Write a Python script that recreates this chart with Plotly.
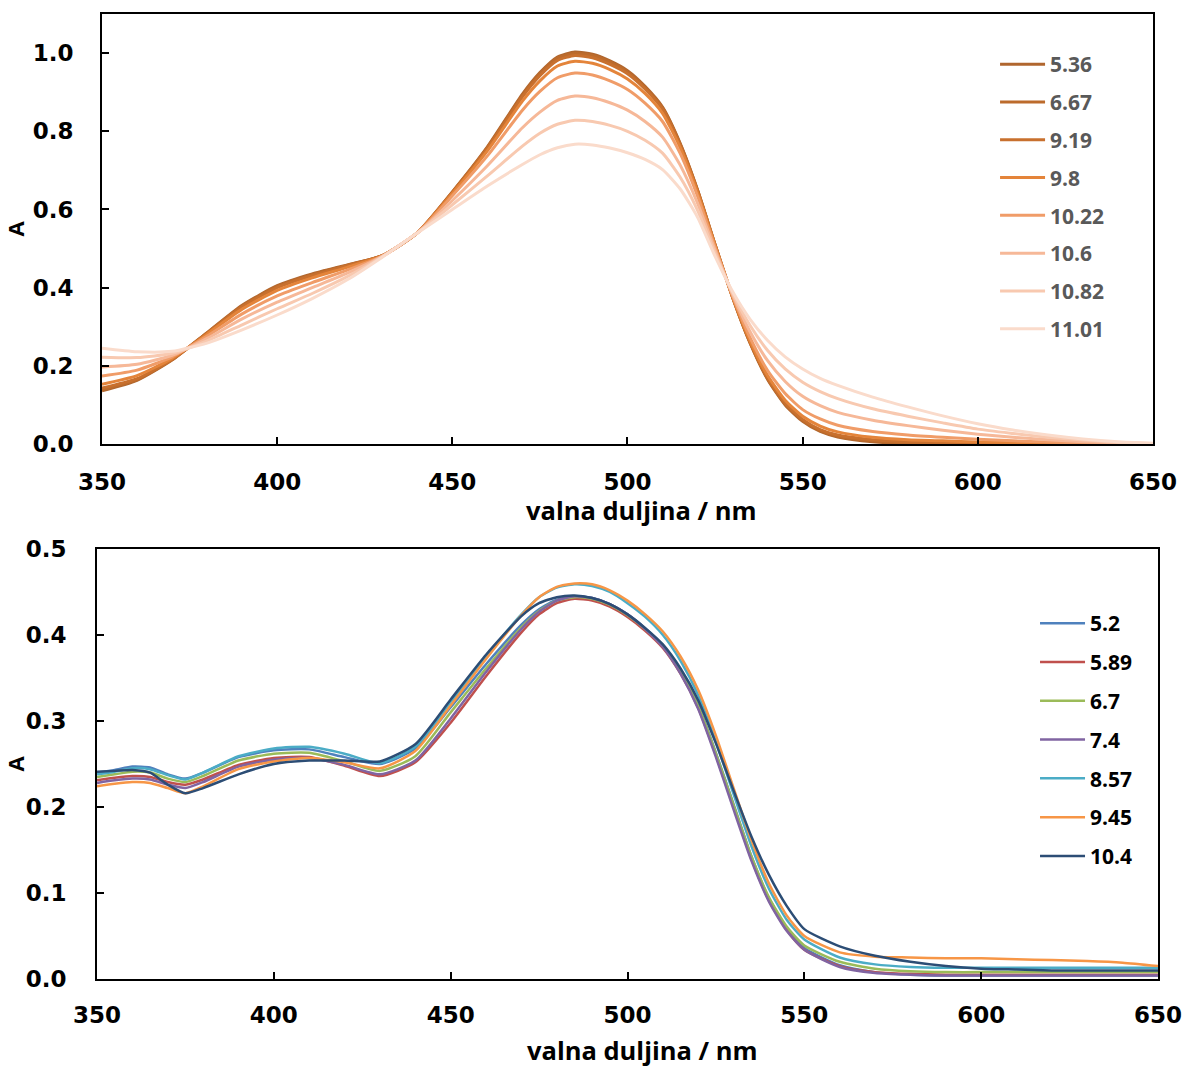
import plotly.graph_objects as go

# ---------------- top panel data ----------------
wl_top = [350, 360, 370, 380, 390, 400, 410, 420, 430, 440, 450, 460, 470, 475, 480, 485, 490, 495,
          500, 505, 510, 515, 520, 525, 530, 535, 540, 545, 550, 555, 560, 570, 580, 590, 600, 610, 620, 630, 640, 650]

top_names = ["5.36", "6.67", "9.19", "9.8", "10.22", "10.6", "10.82", "11.01"]
top_colors = ["#B0662E", "#BC6B2C", "#C8702E", "#E4843A", "#F09C68", "#F6B898", "#F8C9B0", "#FADBCB"]

A_536 = [0.136, 0.163, 0.215, 0.285, 0.355, 0.405, 0.435, 0.458, 0.482, 0.540, 0.645, 0.760, 0.895, 0.950, 0.990, 1.003, 0.997, 0.980,
         0.955, 0.915, 0.862, 0.770, 0.650, 0.510, 0.375, 0.258, 0.165, 0.100, 0.058, 0.032, 0.018, 0.006, 0.002, 0.001, 0.000, 0.000, 0.000, 0.000, 0.000, 0.000]
A_667 = [0.139, 0.165, 0.216, 0.284, 0.353, 0.403, 0.433, 0.457, 0.482, 0.540, 0.644, 0.758, 0.892, 0.947, 0.987, 0.999, 0.994, 0.977,
         0.952, 0.912, 0.860, 0.768, 0.649, 0.510, 0.375, 0.259, 0.167, 0.102, 0.060, 0.034, 0.020, 0.008, 0.003, 0.002, 0.001, 0.001, 0.000, 0.000, 0.000, 0.000]
A_919 = [0.143, 0.167, 0.216, 0.283, 0.351, 0.400, 0.431, 0.456, 0.482, 0.540, 0.643, 0.756, 0.888, 0.942, 0.981, 0.994, 0.988, 0.971,
         0.947, 0.908, 0.856, 0.765, 0.647, 0.509, 0.376, 0.260, 0.169, 0.105, 0.063, 0.037, 0.023, 0.011, 0.006, 0.004, 0.002, 0.001, 0.001, 0.001, 0.000, 0.000]
A_98 = [0.153, 0.175, 0.219, 0.281, 0.345, 0.393, 0.425, 0.452, 0.481, 0.540, 0.641, 0.750, 0.877, 0.929, 0.967, 0.979, 0.974, 0.958,
        0.934, 0.897, 0.846, 0.759, 0.643, 0.507, 0.377, 0.264, 0.175, 0.112, 0.071, 0.046, 0.031, 0.017, 0.011, 0.008, 0.005, 0.004, 0.002, 0.001, 0.001, 0.000]
A_1022 = [0.174, 0.189, 0.223, 0.276, 0.333, 0.379, 0.413, 0.445, 0.481, 0.540, 0.635, 0.737, 0.854, 0.902, 0.937, 0.949, 0.944, 0.929,
          0.907, 0.872, 0.825, 0.744, 0.634, 0.503, 0.379, 0.272, 0.188, 0.129, 0.088, 0.064, 0.048, 0.032, 0.023, 0.017, 0.012, 0.008, 0.005, 0.003, 0.001, 0.000]
A_106 = [0.197, 0.204, 0.227, 0.270, 0.320, 0.363, 0.400, 0.437, 0.480, 0.540, 0.623, 0.712, 0.809, 0.849, 0.879, 0.890, 0.886, 0.873,
         0.854, 0.825, 0.785, 0.714, 0.616, 0.496, 0.382, 0.287, 0.213, 0.160, 0.122, 0.098, 0.081, 0.061, 0.047, 0.035, 0.025, 0.017, 0.011, 0.006, 0.003, 0.001]
A_1082 = [0.222, 0.221, 0.232, 0.264, 0.305, 0.346, 0.385, 0.428, 0.479, 0.540, 0.612, 0.686, 0.762, 0.795, 0.818, 0.828, 0.825, 0.815,
          0.800, 0.777, 0.744, 0.683, 0.598, 0.488, 0.386, 0.303, 0.239, 0.192, 0.158, 0.134, 0.116, 0.090, 0.071, 0.054, 0.038, 0.027, 0.017, 0.010, 0.004, 0.001]
A_1101 = [0.245, 0.236, 0.237, 0.258, 0.292, 0.330, 0.372, 0.420, 0.478, 0.540, 0.600, 0.660, 0.715, 0.740, 0.758, 0.767, 0.765, 0.757,
          0.745, 0.728, 0.702, 0.653, 0.580, 0.480, 0.390, 0.319, 0.265, 0.223, 0.192, 0.168, 0.150, 0.120, 0.095, 0.072, 0.052, 0.036, 0.023, 0.013, 0.006, 0.002]
top_series = [A_536, A_667, A_919, A_98, A_1022, A_106, A_1082, A_1101]

# ---------------- bottom panel data ----------------
wl_bot = [350, 355, 360, 365, 370, 375, 380, 390, 400, 410, 420, 430, 440, 450, 460, 470, 475, 480, 485, 490, 495,
          500, 505, 510, 515, 520, 525, 530, 535, 540, 545, 550, 560, 570, 580, 590, 600, 610, 620, 630, 640, 650]

bot_names = ["5.2", "5.89", "6.7", "7.4", "8.57", "9.45", "10.4"]
bot_colors = ["#4F81BD", "#C0504D", "#9BBB59", "#8064A2", "#4BACC6", "#F79646", "#2C4D75"]

B_52 = [0.240, 0.243, 0.247, 0.246, 0.238, 0.233, 0.240, 0.258, 0.266, 0.267, 0.258, 0.250, 0.268, 0.316, 0.366, 0.412, 0.430, 0.441, 0.445, 0.443, 0.436,
        0.424, 0.408, 0.388, 0.358, 0.318, 0.263, 0.203, 0.143, 0.094, 0.059, 0.036, 0.016, 0.008, 0.005, 0.004, 0.004, 0.004, 0.004, 0.004, 0.004, 0.004]
B_589 = [0.231, 0.234, 0.236, 0.235, 0.229, 0.226, 0.232, 0.249, 0.257, 0.258, 0.248, 0.236, 0.252, 0.298, 0.352, 0.403, 0.424, 0.437, 0.442, 0.440, 0.433,
         0.421, 0.405, 0.385, 0.355, 0.315, 0.260, 0.200, 0.140, 0.091, 0.057, 0.034, 0.015, 0.008, 0.006, 0.005, 0.005, 0.005, 0.005, 0.005, 0.005, 0.005]
B_67 = [0.235, 0.238, 0.241, 0.240, 0.233, 0.229, 0.236, 0.254, 0.262, 0.263, 0.253, 0.242, 0.259, 0.310, 0.361, 0.409, 0.428, 0.440, 0.444, 0.442, 0.435,
        0.423, 0.407, 0.387, 0.357, 0.317, 0.262, 0.202, 0.143, 0.095, 0.061, 0.039, 0.020, 0.012, 0.009, 0.008, 0.008, 0.008, 0.008, 0.008, 0.008, 0.008]
B_74 = [0.228, 0.231, 0.233, 0.232, 0.226, 0.222, 0.229, 0.247, 0.255, 0.257, 0.249, 0.238, 0.254, 0.303, 0.357, 0.407, 0.427, 0.440, 0.445, 0.443, 0.436,
        0.424, 0.407, 0.386, 0.355, 0.314, 0.258, 0.197, 0.138, 0.090, 0.056, 0.034, 0.014, 0.007, 0.005, 0.004, 0.004, 0.004, 0.004, 0.004, 0.004, 0.004]
B_857 = [0.238, 0.241, 0.245, 0.244, 0.237, 0.232, 0.240, 0.259, 0.268, 0.270, 0.262, 0.251, 0.270, 0.322, 0.375, 0.424, 0.444, 0.455, 0.459, 0.457, 0.450,
         0.437, 0.421, 0.400, 0.370, 0.330, 0.276, 0.215, 0.155, 0.105, 0.069, 0.046, 0.025, 0.017, 0.014, 0.013, 0.013, 0.013, 0.013, 0.013, 0.013, 0.013]
B_945 = [0.224, 0.227, 0.229, 0.228, 0.222, 0.216, 0.224, 0.244, 0.253, 0.257, 0.252, 0.245, 0.265, 0.318, 0.372, 0.423, 0.444, 0.456, 0.460, 0.459, 0.452,
         0.440, 0.424, 0.404, 0.375, 0.336, 0.283, 0.222, 0.162, 0.111, 0.074, 0.050, 0.031, 0.026, 0.025, 0.024, 0.024, 0.023, 0.022, 0.021, 0.019, 0.015]
B_104 = [0.241, 0.242, 0.243, 0.240, 0.226, 0.216, 0.222, 0.238, 0.250, 0.254, 0.254, 0.253, 0.273, 0.325, 0.377, 0.422, 0.437, 0.444, 0.446, 0.443, 0.436,
         0.424, 0.408, 0.389, 0.361, 0.324, 0.274, 0.219, 0.166, 0.121, 0.085, 0.058, 0.038, 0.027, 0.020, 0.015, 0.012, 0.011, 0.010, 0.010, 0.010, 0.010]
bot_series = [B_52, B_589, B_67, B_74, B_857, B_945, B_104]

y_ticks_top = [0.0, 0.2, 0.4, 0.6, 0.8, 1.0]
y_ticks_bot = [0.0, 0.1, 0.2, 0.3, 0.4, 0.5]
x_ticks = [350, 400, 450, 500, 550, 600, 650]
x_title = "valna duljina / nm"
y_title = "A"

fig = go.Figure()
for name, col, ys in zip(top_names, top_colors, top_series):
    fig.add_trace(go.Scatter(x=wl_top, y=ys, name=name, mode="lines",
                             line=dict(color=col, width=3, shape="spline", smoothing=0.6),
                             xaxis="x", yaxis="y", legend="legend", legendgroup="t" + name))
for name, col, ys in zip(bot_names, bot_colors, bot_series):
    fig.add_trace(go.Scatter(x=wl_bot, y=ys, name=name, mode="lines",
                             line=dict(color=col, width=2.5, shape="spline", smoothing=0.6),
                             xaxis="x2", yaxis="y2", legend="legend2", legendgroup="b" + name))

tickfont = dict(family="DejaVu Sans", size=23, color="black", weight="bold")
titlefont = dict(family="Open Sans", size=25.5, color="black", weight="bold")
afont = dict(family="Open Sans", size=22, color="black", weight="bold")
axis_common = dict(showline=True, linecolor="black", linewidth=2, mirror=True, ticks="inside",
                   ticklen=7, tickwidth=1.5, tickcolor="black", showgrid=False, zeroline=False,
                   tickfont=tickfont, automargin=False, ticklabeloverflow="allow")

W, H = 1186, 1068

fig.update_layout(
    width=W, height=H,
    margin=dict(l=0, r=0, t=0, b=0, autoexpand=False),
    paper_bgcolor="white", plot_bgcolor="white",
    xaxis=dict(axis_common, domain=[0.08600, 0.97218], range=[350, 650], tickvals=x_ticks,
               anchor="y", ticklabelstandoff=16),
    yaxis=dict(axis_common, domain=[0.58427, 0.98689], range=[0, 1.1], tickvals=y_ticks_top,
               tickformat=".1f", anchor="x", ticklabelstandoff=22,
               title=dict(text=y_title, font=afont, standoff=8)),
    xaxis2=dict(axis_common, domain=[0.08179, 0.97639], range=[350, 650], tickvals=x_ticks,
                anchor="y2", ticklabelstandoff=14),
    yaxis2=dict(axis_common, domain=[0.08333, 0.48596], range=[0, 0.5], tickvals=y_ticks_bot,
                tickformat=".1f", anchor="x2", ticklabelstandoff=24,
                title=dict(text=y_title, font=afont, standoff=8)),
    legend=dict(x=0.8390, y=0.9588, xanchor="left", yanchor="top", bgcolor="rgba(0,0,0,0)",
                font=dict(family="Open Sans", size=21, color="#595959", weight="bold"),
                tracegroupgap=7.5, itemwidth=45),
    legend2=dict(x=0.8727, y=0.4354, xanchor="left", yanchor="top", bgcolor="rgba(0,0,0,0)",
                 font=dict(family="Open Sans", size=21, color="black", weight="bold"),
                 tracegroupgap=8.5, itemwidth=45),
    annotations=[
        dict(text=x_title, xref="paper", yref="paper", x=0.5405, y=0.5225,
             xanchor="center", yanchor="middle", showarrow=False, font=titlefont),
        dict(text=x_title, xref="paper", yref="paper", x=0.5413, y=0.0172,
             xanchor="center", yanchor="middle", showarrow=False, font=titlefont),
    ],
)

# remove the default 8 px page margin so the figure fills the window exactly
fig.write_html("out.html", config={"displayModeBar": False},
               post_script="document.body.style.margin='0';")
